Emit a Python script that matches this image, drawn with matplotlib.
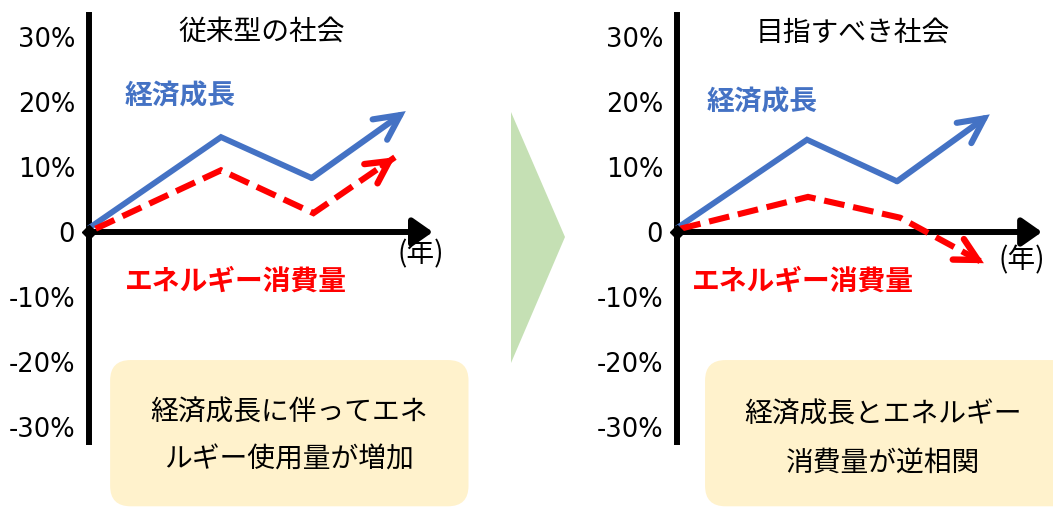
"""従来型の社会 vs 目指すべき社会 — 経済成長とエネルギー消費量の概念図."""
import matplotlib
matplotlib.use("Agg")
import matplotlib.pyplot as plt  # noqa: E402
from matplotlib.patches import FancyBboxPatch, Polygon  # noqa: E402

plt.rcParams["font.family"] = ["Noto Sans CJK JP", "DejaVu Sans"]

BLUE = "#4472C4"
RED = "#FF0000"
GREEN = "#C5E0B4"
YELLOW = "#FFF2CC"

# ----------------------------------------------------------------------
# データ (x: 年の相対位置, y: %)
# ----------------------------------------------------------------------
ytick_vals = [30, 20, 10, 0, -10, -20, -30]
ytick_labels = ["30%", "20%", "10%", "0", "-10%", "-20%", "-30%"]

titles = ["従来型の社会", "目指すべき社会"]
box_texts = ["経済成長に伴ってエネ\nルギー使用量が増加",
             "経済成長とエネルギー\n消費量が逆相関"]

growth_x_left = [0.0, 4.0, 6.75, 9.6]
growth_y_left = [0.6, 14.6, 8.3, 18.6]
energy_x_left = [0.2, 4.0, 6.8, 9.27]
energy_y_left = [0.5, 9.5, 2.9, 11.5]

growth_x_right = [0.0, 3.94, 6.67, 9.48]
growth_y_right = [0.6, 14.2, 7.8, 18.1]
energy_x_right = [0.1, 3.97, 6.76, 9.3]
energy_y_right = [0.5, 5.4, 2.2, -4.8]

W, H = 1053, 507
PX_X = 33.0    # px per x unit
PX_Y = 6.5     # px per 1 %
ZERO_Y = 232   # 0% の画素位置

fig = plt.figure(figsize=(W / 100, H / 100), dpi=100)


def panel(origin_px, gx, gy, ex, ey, title, box_text, axis_end,
          title_xy, growth_xy, energy_xy, year_xy, box_x, text_xy):
    ax = fig.add_axes([0, 0, 1, 1], facecolor="none")
    ax.set_xlim(-origin_px / PX_X, (W - origin_px) / PX_X)
    ax.set_ylim(-(H - ZERO_Y) / PX_Y, ZERO_Y / PX_Y)
    for s in ("top", "right", "bottom"):
        ax.spines[s].set_visible(False)
    ax.spines["left"].set_position(("data", 0))
    ax.spines["left"].set_bounds(-32.3, 33.4)
    ax.spines["left"].set_linewidth(4.3)
    ax.set_xticks([])
    ax.set_yticks(ytick_vals)
    ax.set_yticklabels(ytick_labels, fontsize=18.5, family="DejaVu Sans")
    ax.tick_params(axis="y", length=0, pad=10)

    # 横軸 (矢印)
    ax.annotate("", xy=(axis_end, 0), xytext=(0, 0),
                arrowprops=dict(arrowstyle="-|>,head_length=0.6,head_width=0.42",
                                lw=4.3, color="black", mutation_scale=20,
                                shrinkA=0, shrinkB=0))
    ax.plot([0], [0], marker="D", ms=7, color="black", zorder=5)

    # 経済成長
    ax.plot(gx[:-1], gy[:-1], color=BLUE, lw=4.2, solid_joinstyle="miter",
            solid_capstyle="butt", zorder=3)
    ax.annotate("", xy=(gx[-1], gy[-1]), xytext=(gx[-2], gy[-2]),
                arrowprops=dict(arrowstyle="->,head_length=0.9,head_width=0.45",
                                lw=4.4, color=BLUE, mutation_scale=20,
                                shrinkA=0, shrinkB=0, capstyle="round",
                                joinstyle="miter"),
                zorder=3)

    # エネルギー消費量
    ax.plot(ex, ey, color=RED, lw=4.4, ls=(0, (3.4, 1.45)),
            dash_capstyle="butt", dash_joinstyle="miter", zorder=4)
    bx = ex[-1] - 0.15 * (ex[-1] - ex[-2])
    by = ey[-1] - 0.15 * (ey[-1] - ey[-2])
    ax.annotate("", xy=(ex[-1], ey[-1]), xytext=(bx, by),
                arrowprops=dict(arrowstyle="->,head_length=0.8,head_width=0.42",
                                lw=4.6, color=RED, mutation_scale=20,
                                shrinkA=0, shrinkB=0, capstyle="round",
                                joinstyle="miter"),
                zorder=4)

    ax.text(*title_xy, title, fontsize=20, ha="center", va="center")
    ax.text(*growth_xy, "経済成長", fontsize=20, weight="bold", color=BLUE,
            ha="left", va="center")
    ax.text(*energy_xy, "エネルギー消費量", fontsize=20, weight="bold", color=RED,
            ha="left", va="center")
    ax.text(*year_xy, "(年)", fontsize=20, ha="center", va="center")

    # 説明ボックス
    box = FancyBboxPatch((box_x[0], -42.2), box_x[1] - box_x[0], 22.5,
                         boxstyle="round,pad=0,rounding_size=0.62",
                         mutation_aspect=PX_X / PX_Y,
                         fc=YELLOW, ec="none", zorder=1)
    ax.add_patch(box)
    ax.text(*text_xy, box_text, fontsize=20, ha="center", va="center",
            linespacing=1.75, zorder=2)
    return ax


panel(89, growth_x_left, growth_y_left, energy_x_left, energy_y_left,
      titles[0], box_texts[0], 10.42,
      (5.24, 30.8), (1.09, 20.8), (1.09, -7.7), (10.06, -3.5),
      (0.64, 11.5), (6.06, -31.4))
panel(677, growth_x_right, growth_y_right, energy_x_right, energy_y_right,
      titles[1], box_texts[1], 11.06,
      (5.33, 30.6), (0.91, 20.0), (0.45, -7.7), (10.45, -4.3),
      (0.85, 12.5), (6.24, -31.8))

# 中央の矢印 (三角形)
tri = Polygon([(511 / W, 1 - 112 / H), (565 / W, 1 - 237 / H), (511 / W, 1 - 363 / H)],
              closed=True, transform=fig.transFigure, fc=GREEN, ec="none")
fig.patches.append(tri)

fig.savefig("out.png", dpi=100, facecolor="white")
